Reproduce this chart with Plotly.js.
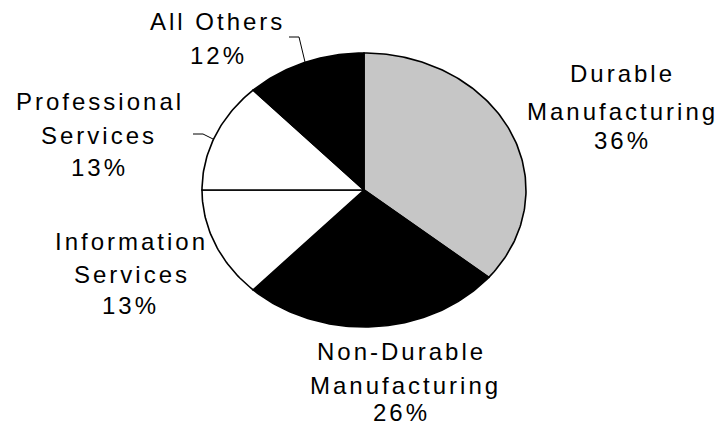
<!DOCTYPE html>
<html>
<head>
<meta charset="utf-8">
<script src="https://cdn.plot.ly/plotly-3.0.1.min.js"></script>
<style>
html,body{margin:0;padding:0;background:#fff;}
#chart{width:719px;height:429px;}
.annotation-text{letter-spacing:3px;}
</style>
</head>
<body>
<div id="chart"></div>
<script>
// ---- data ----
var categories = ["Durable Manufacturing", "Non-Durable Manufacturing", "Information Services", "Professional Services", "All Others"];
var labelLines = [["Durable", "Manufacturing"], ["Non-Durable", "Manufacturing"], ["Information", "Services"], ["Professional", "Services"], ["All Others"]];
var shares = [36, 26, 13, 13, 12];

// ---- style / layout ----
var sliceColors = ["#c6c6c6", "#000000", "#ffffff", "#ffffff", "#000000"];
var cx = 364, cy = 190, rx = 162, ry = 137;
// label line positions [x, y] per category, one per text line (name lines then percent)
var labelPos = [
  [[622, 73], [622, 111], [622, 140]],
  [[401, 351], [405, 385], [401, 412]],
  [[131, 241], [132, 274], [130, 305]],
  [[100, 101], [99, 135], [99, 167]],
  [[217, 21], [218, 55]]
];

var total = shares.reduce(function(a, b){ return a + b; }, 0);
var traces = [];
var cum = 0;
for (var i = 0; i < shares.length; i++) {
  var a0 = cum / total * 2 * Math.PI;
  cum += shares[i];
  var a1 = cum / total * 2 * Math.PI;
  var xs = [cx], ys = [cy];
  var n = Math.max(8, Math.ceil((a1 - a0) / (Math.PI / 180)));
  for (var k = 0; k <= n; k++) {
    var t = a0 + (a1 - a0) * k / n;
    xs.push(cx + rx * Math.sin(t));
    ys.push(cy - ry * Math.cos(t));
  }
  xs.push(cx); ys.push(cy);
  traces.push({
    type: "scatter", mode: "lines", x: xs, y: ys,
    fill: "toself", fillcolor: sliceColors[i],
    line: {color: "#000", width: 1.6},
    name: categories[i], hoverinfo: "skip", showlegend: false
  });
}

var annotations = [];
for (var i = 0; i < categories.length; i++) {
  var lines = labelLines[i].concat([shares[i] + "%"]);
  for (var j = 0; j < lines.length; j++) {
    annotations.push({
      text: lines[j], x: labelPos[i][j][0], y: labelPos[i][j][1],
      xref: "x", yref: "y", showarrow: false,
      xanchor: "center", yanchor: "middle",
      font: {family: "Liberation Sans, Arial, sans-serif", size: 24, color: "#000"}
    });
  }
}

var shapes = [
  {type: "path", path: "M 289 37 L 299 37 L 305 62", line: {color: "#000", width: 1}, xref: "x", yref: "y"},
  {type: "path", path: "M 193 134 L 203 134 L 213 139", line: {color: "#000", width: 1}, xref: "x", yref: "y"}
];

var layout = {
  width: 719, height: 429,
  margin: {l: 0, r: 0, t: 0, b: 0},
  paper_bgcolor: "#fff", plot_bgcolor: "#fff",
  xaxis: {range: [0, 719], visible: false, fixedrange: true},
  yaxis: {range: [429, 0], visible: false, fixedrange: true},
  annotations: annotations,
  shapes: shapes,
  showlegend: false
};

Plotly.newPlot("chart", traces, layout, {displayModeBar: false, staticPlot: true});
</script>
</body>
</html>
